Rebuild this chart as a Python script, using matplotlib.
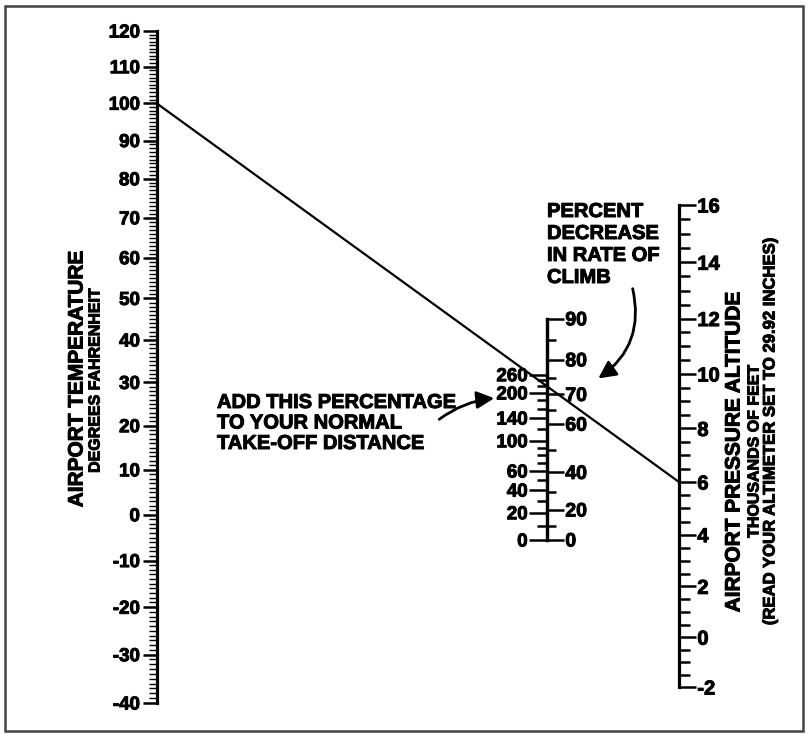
import numpy as np
import matplotlib.pyplot as plt
import matplotlib.patheffects as pe
from matplotlib.patches import ConnectionPatch, FancyArrowPatch, Rectangle
from matplotlib.ticker import FixedLocator, FuncFormatter

plt.rcParams['font.family'] = ['Liberation Sans', 'DejaVu Sans']
plt.rcParams['font.weight'] = 'bold'
plt.rcParams['axes.unicode_minus'] = False

W, H = 808, 734

# scale values
temp_major = np.arange(-40, 121, 10)
temp_minor = np.arange(-40, 121, 1)
alt_major = np.arange(-2, 17, 2)
alt_minor = np.arange(-2, 16.5, 0.5)
climb_major = [0, 20, 40, 60, 70, 80, 90]
climb_minor = [10, 30, 50, 65, 75, 85]
takeoff_major = [0, 20, 40, 60, 100, 140, 200, 260]
takeoff_minor = [10, 30, 50, 70, 80, 90, 120, 160, 180, 220, 240]

# worked example on the chart
example_temp = 100
example_alt = 6

heavy = [pe.withStroke(linewidth=0.7, foreground='black')]


# scale functions (value -> figure pixel height from the bottom)
def temp_fwd(t):
    v = np.asarray(t, float) - 40
    return H - (340 - 4.2 * v + 0.00422 * v ** 2)

def temp_inv(y):
    c = 340 - (H - np.asarray(y, float))
    d = np.clip(4.2 ** 2 - 4 * 0.00422 * c, 0, None)
    return 40 + (4.2 - np.sqrt(d)) / (2 * 0.00422)

def alt_fwd(a):
    v = np.asarray(a, float) - 6
    return H - (482 - 26.55 * v - 0.1153 * v ** 2)

def alt_inv(y):
    c = H - np.asarray(y, float) - 482
    d = np.clip(26.55 ** 2 - 4 * 0.1153 * c, 0, None)
    return 6 + (-26.55 + np.sqrt(d)) / (2 * 0.1153)

def climb_fwd(p):
    p = np.asarray(p, float)
    return H - 540 + p / (0.74 - 0.0037 * p)

def climb_inv(y):
    h = np.asarray(y, float) - (H - 540)
    return 0.74 * h / (1 + 0.0037 * h)

def takeoff_fwd(t):
    t = np.clip(np.asarray(t, float), -99, None)
    return climb_fwd(100 * (1 - (1 + t / 100) ** (-1 / 0.9)))

def takeoff_inv(y):
    p = np.clip(climb_inv(y), None, 99.9)
    return 100 * ((1 - p / 100) ** (-0.9) - 1)


fig = plt.figure(figsize=(W / 100, H / 100), dpi=100)

bg = fig.add_axes([0, 0, 1, 1], zorder=-1)
bg.set_xlim(0, W)
bg.set_ylim(H, 0)
bg.axis('off')
bg.add_patch(Rectangle((5, 6), 798, 725, fill=False, lw=1.8, ec='#444444'))


def make_scale(x, side, fwd, inv, lo, hi):
    w = 0.01
    left = x / W if side == 'left' else x / W - w
    b = float(fwd(lo)) / H
    h = float(fwd(hi) - fwd(lo)) / H
    ax = fig.add_axes([left, b, w, h])
    ax.set_yscale('function', functions=(fwd, inv))
    ax.set_ylim(lo, hi)
    ax.set_xlim(0, 1)
    ax.patch.set_visible(False)
    for s in ax.spines.values():
        s.set_visible(False)
    ax.spines[side].set_visible(True)
    ax.spines[side].set_linewidth(2.3)
    ax.xaxis.set_visible(False)
    if side == 'right':
        ax.yaxis.tick_right()
    else:
        ax.yaxis.tick_left()
    return ax


fmt = FuncFormatter(lambda v, _: f"{v:g}")

# temperature
ax_t = make_scale(156.5, 'left', temp_fwd, temp_inv, -40, 120)
ax_t.yaxis.set_major_locator(FixedLocator(temp_major))
ax_t.yaxis.set_minor_locator(FixedLocator(temp_minor))
ax_t.yaxis.set_major_formatter(fmt)
ax_t.tick_params(axis='y', which='major', length=10, width=1.8, pad=2, labelsize=13.5)
ax_t.tick_params(axis='y', which='minor', length=5.5, width=1.0)

# pressure altitude
ax_a = make_scale(679, 'right', alt_fwd, alt_inv, -2, 16)
ax_a.yaxis.set_major_locator(FixedLocator(alt_major))
ax_a.yaxis.set_minor_locator(FixedLocator(alt_minor))
ax_a.yaxis.set_major_formatter(fmt)
ax_a.tick_params(axis='y', which='major', length=12.2, width=1.8, pad=1, labelsize=14.5)
ax_a.tick_params(axis='y', which='minor', length=8, width=1.8)

# rate of climb decrease
ax_c = make_scale(547, 'right', climb_fwd, climb_inv, 0, 90)
ax_c.yaxis.set_major_locator(FixedLocator(climb_major))
ax_c.yaxis.set_minor_locator(FixedLocator(climb_minor))
ax_c.yaxis.set_major_formatter(fmt)
ax_c.tick_params(axis='y', which='major', length=12.2, width=1.8, pad=1, labelsize=14)
ax_c.tick_params(axis='y', which='minor', length=6.5, width=1.8)

# take-off distance increase
ax_o = make_scale(547, 'left', takeoff_fwd, takeoff_inv, 0, float(takeoff_inv(climb_fwd(90))))
ax_o.yaxis.set_major_locator(FixedLocator(takeoff_major))
ax_o.yaxis.set_minor_locator(FixedLocator(takeoff_minor))
ax_o.yaxis.set_major_formatter(fmt)
ax_o.tick_params(axis='y', which='major', length=13, width=1.8, pad=1, labelsize=13.5)
ax_o.tick_params(axis='y', which='minor', length=7.2, width=1.8)

for ax in (ax_t, ax_a, ax_c, ax_o):
    for lbl in ax.get_yticklabels():
        lbl.set_path_effects(heavy)

# example line
con = ConnectionPatch(xyA=(0, example_temp), coordsA=ax_t.transData,
                      xyB=(1, example_alt), coordsB=ax_a.transData,
                      lw=1.6, color='black')
fig.add_artist(con)

# labels
narrow = ['Liberation Sans Narrow', 'Liberation Sans', 'DejaVu Sans']
labels = [
    bg.text(77, 379, 'AIRPORT TEMPERATURE', rotation=90, ha='center', va='center', fontsize=15),
    bg.text(95, 380, 'DEGREES FAHRENHEIT', rotation=90, ha='center', va='center',
            fontsize=11.5, family=narrow),
    bg.text(734, 452, 'AIRPORT PRESSURE ALTITUDE', rotation=90, ha='center', va='center',
            fontsize=15),
    bg.text(754, 451, 'THOUSANDS OF FEET', rotation=90, ha='center', va='center',
            fontsize=11.5, family=narrow),
    bg.text(770, 432, '(READ YOUR ALTIMETER SET TO 29.92 INCHES)', rotation=90,
            ha='center', va='center', fontsize=12, family=narrow),
    bg.text(547, 202, 'PERCENT\nDECREASE\nIN RATE OF\nCLIMB', ha='left', va='top',
            fontsize=14.5, linespacing=1.2),
    bg.text(217, 393, 'ADD THIS PERCENTAGE\nTO YOUR NORMAL\nTAKE-OFF DISTANCE', ha='left',
            va='top', fontsize=14.5, linespacing=1.1),
]
for t in labels:
    t.set_path_effects(heavy)

bg.add_patch(FancyArrowPatch((437, 421), (497, 398), connectionstyle='arc3,rad=-0.15',
                             arrowstyle='-|>,head_length=0.7,head_width=0.35',
                             mutation_scale=15, lw=2, color='black'))
bg.add_patch(FancyArrowPatch((632, 286), (596, 380), connectionstyle='arc3,rad=-0.35',
                             arrowstyle='-|>,head_length=0.7,head_width=0.35',
                             mutation_scale=15, lw=2, color='black'))

fig.savefig('out.png', dpi=100)
